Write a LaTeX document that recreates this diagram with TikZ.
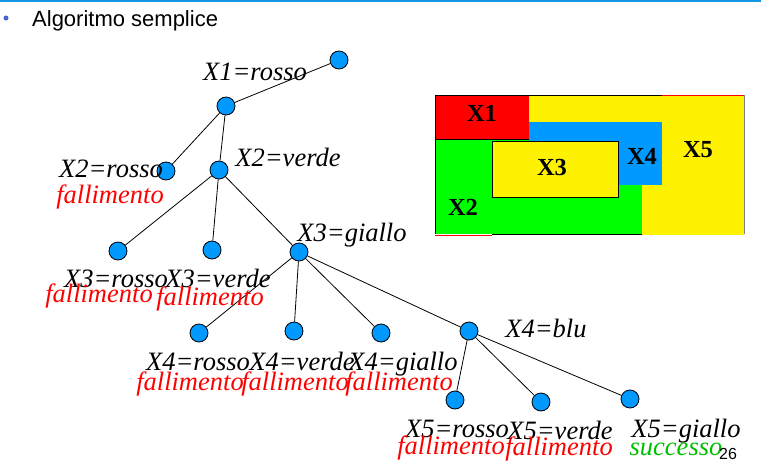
\documentclass[tikz,border=0pt]{standalone}
\usepackage{fontspec}
\setmainfont{Liberation Serif}
\setsansfont{Liberation Sans}
\usepackage{xcolor}
\usepackage{tikz}
\definecolor{nodeblue}{RGB}{0,153,255}
\definecolor{okgreen}{RGB}{0,190,0}
\definecolor{mapgreen}{RGB}{0,255,0}
\definecolor{topline}{RGB}{20,150,230}
\definecolor{bullet}{RGB}{70,100,210}
\begin{document}
\begin{tikzpicture}[x=1pt,y=-1pt,every node/.style={inner sep=0pt},vertex/.style={circle,draw,fill=nodeblue,minimum size=18pt,line width=0.8pt},val/.style={anchor=base,font=\fontsize{26.5}{26.5}\selectfont\itshape},fail/.style={val,text=red},ok/.style={val,text=okgreen},region/.style={font=\fontsize{24.5}{24.5}\selectfont\bfseries}]
    \useasboundingbox (0,0) rectangle (761,463);
    \draw[topline,line width=2pt] (0,1) -- (761,1);
    \fill[bullet] (6,18) circle (2.5);
    \node[anchor=base west,font=\sffamily\fontsize{22}{22}\selectfont](title) at (32,26){Algoritmo semplice};
    \fill[yellow] (529,95) rectangle (744,235);
    \fill[mapgreen] (435,139) rectangle (642,234);
    \fill[nodeblue] (529,122) rectangle (662,185);
    \fill[red] (435,95) rectangle (529,139);
    \draw[line width=0.8pt,fill=yellow] (492,141) rectangle (618,197);
    \draw[line width=0.8pt] (435,234) -- (435,95) -- (662,95);
    \draw[line width=0.8pt] (435,139) -- (529,139);
    \draw[line width=0.8pt] (492,234) -- (642,234);
    \draw[red,line width=1pt] (435,235) -- (492,235);
    \draw[red,line width=1pt] (662,95.5) -- (744,95.5);
    \draw[gray,line width=0.8pt] (744,95) -- (744,234);
    \node[region](m1) at (482,113){X1};
    \node[region](m2) at (463,207){X2};
    \node[region](m3) at (552,168){X3};
    \node[region](m4) at (642,156){X4};
    \node[region](m5) at (698,150){X5};
    \node[vertex](r) at (339,60){};
    \node[vertex](a) at (226,106){};
    \node[vertex](b1) at (166,171){};
    \node[vertex](b2) at (219,170){};
    \node[vertex](c1) at (118,251){};
    \node[vertex](c2) at (212,250){};
    \node[vertex](c3) at (299,252){};
    \node[vertex](d1) at (199,333){};
    \node[vertex](d2) at (294,331){};
    \node[vertex](d3) at (381,333){};
    \node[vertex](d4) at (469,331){};
    \node[vertex](e1) at (455,400){};
    \node[vertex](e2) at (541,402){};
    \node[vertex](e3) at (630,399){};
    \draw[line width=0.8pt] (r) -- (a);
    \draw[line width=0.8pt] (a) -- (b1);
    \draw[line width=0.8pt] (a) -- (b2);
    \draw[line width=0.8pt] (b2) -- (c1);
    \draw[line width=0.8pt] (b2) -- (c2);
    \draw[line width=0.8pt] (b2) -- (c3);
    \draw[line width=0.8pt] (c3) -- (d1);
    \draw[line width=0.8pt] (c3) -- (d2);
    \draw[line width=0.8pt] (c3) -- (d3);
    \draw[line width=0.8pt] (c3) -- (d4);
    \draw[line width=0.8pt] (d4) -- (e1);
    \draw[line width=0.8pt] (d4) -- (e2);
    \draw[line width=0.8pt] (d4) -- (e3);
    \node[val](la) at (255,80){X1=rosso};
    \node[val](lb1) at (111,177){X2=rosso};
    \node[fail](fb1) at (110,203){fallimento};
    \node[val](lb2) at (288,166){X2=verde};
    \node[val](lc1) at (116,287){X3=rosso};
    \node[fail](fc1) at (99,302){fallimento};
    \node[val](lc2) at (218,287){X3=verde};
    \node[fail](fc2) at (210,305){fallimento};
    \node[val](lc3) at (352,241){X3=giallo};
    \node[val](ld1) at (198,370){X4=rosso};
    \node[fail](fd1) at (190,390){fallimento};
    \node[val](ld2) at (302,370){X4=verde};
    \node[fail](fd2) at (295,390){fallimento};
    \node[val](ld3) at (403,370){X4=giallo};
    \node[fail](fd3) at (399,390){fallimento};
    \node[val](ld4) at (546,337){X4=blu};
    \node[val](le1) at (457,437){X5=rosso};
    \node[fail](fe1) at (451,454){fallimento};
    \node[val](le2) at (560,439){X5=verde};
    \node[fail](fe2) at (559,455){fallimento};
    \node[val](le3) at (686,437){X5=giallo};
    \node[ok](oe3) at (676,455){successo};
    \node[anchor=base,font=\sffamily\fontsize{16}{16}\selectfont](page) at (728,459){26};
  \end{tikzpicture}
\end{document}
